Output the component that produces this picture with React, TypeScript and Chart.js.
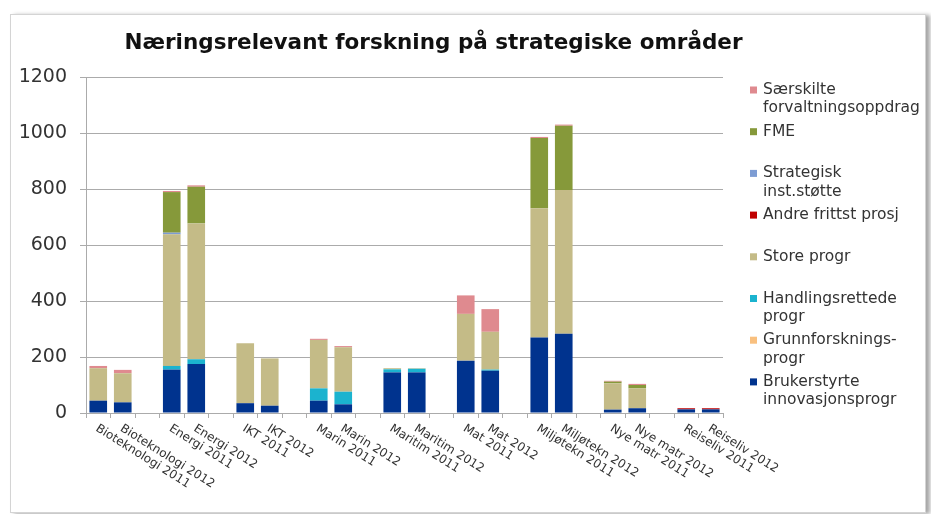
import React, { useEffect, useRef } from 'react';
import { Chart, registerables } from 'chart.js';

Chart.register(...registerables);

const TITLE = 'Næringsrelevant forskning på strategiske områder';

const categories = [
  'Bioteknologi 2011', 'Bioteknologi 2012', '',
  'Energi 2011', 'Energi 2012', '',
  'IKT 2011', 'IKT 2012', '',
  'Marin 2011', 'Marin 2012', '',
  'Maritim 2011', 'Maritim 2012', '',
  'Mat 2011', 'Mat 2012', '',
  'Miljøtekn 2011', 'Miljøtekn 2012', '',
  'Nye matr 2011', 'Nye matr 2012', '',
  'Reiseliv 2011', 'Reiseliv 2012',
];

const brukerstyrte = [44, 38, null, 155, 175, null, 35, 26, null, 44, 31, null, 145, 145, null, 187, 151, null, 270, 283, null, 12, 17, null, 13, 13];
const grunnforskning = [0, 0, null, 0, 0, null, 0, 0, null, 0, 0, null, 0, 0, null, 0, 0, null, 0, 0, null, 0, 0, null, 0, 0];
const handlingsrettede = [0, 0, null, 13, 17, null, 0, 0, null, 44, 45, null, 11, 13, null, 0, 4, null, 0, 0, null, 0, 0, null, 0, 0];
const storeProgr = [116, 104, null, 470, 485, null, 214, 169, null, 173, 159, null, 4, 2, null, 167, 135, null, 461, 513, null, 94, 71, null, 0, 0];
const andreFrittst = [0, 0, null, 0, 0, null, 0, 0, null, 0, 0, null, 0, 0, null, 0, 0, null, 0, 0, null, 0, 0, null, 4, 4];
const strategisk = [0, 0, null, 6, 0, null, 0, 0, null, 0, 0, null, 0, 0, null, 0, 0, null, 0, 0, null, 0, 0, null, 0, 0];
const fme = [0, 0, null, 145, 131, null, 0, 0, null, 0, 0, null, 0, 0, null, 0, 0, null, 251, 230, null, 6, 12, null, 0, 0];
const saerskilte = [8, 12, null, 4, 5, null, 0, 0, null, 4, 4, null, 0, 0, null, 66, 81, null, 4, 4, null, 3, 4, null, 0, 0];

const yMin = 0;
const yMax = 1200;
const yStep = 200;

const seriesLabels = [
  ['Brukerstyrte', 'innovasjonsprogr'],
  ['Grunnforsknings-', 'progr'],
  ['Handlingsrettede', 'progr'],
  ['Store progr'],
  ['Andre frittst prosj'],
  ['Strategisk', 'inst.støtte'],
  ['FME'],
  ['Særskilte', 'forvaltningsoppdrag'],
];
const seriesData = [brukerstyrte, grunnforskning, handlingsrettede, storeProgr, andreFrittst, strategisk, fme, saerskilte];
const seriesColors = ['#00338E', '#F9C07F', '#1BB3CF', '#C4BB87', '#C00000', '#7D9CD3', '#86993A', '#DF8A8F'];

const FONT = '"DejaVu Sans", Verdana, sans-serif';
const TEXT = '#333333';
const GRID = '#ABABAB';

const decorPlugin = {
  id: 'decor',
  afterDraw(chart: any) {
    const ctx = chart.ctx;
    const area = chart.chartArea;
    const xs = chart.scales.x;
    ctx.save();
    // title
    ctx.fillStyle = '#111111';
    ctx.font = `bold 21.5px ${FONT}`;
    ctx.textAlign = 'center';
    ctx.textBaseline = 'alphabetic';
    ctx.fillText(TITLE, 433.5, 48.5);

    // rotated category labels
    ctx.fillStyle = TEXT;
    ctx.font = `12px ${FONT}`;
    categories.forEach((c, i) => {
      if (!c) return;
      const x = xs.getPixelForValue(i);
      ctx.save();
      ctx.translate(x + 1.5, area.bottom + 9.5);
      ctx.rotate((32 * Math.PI) / 180);
      ctx.textAlign = 'left';
      ctx.textBaseline = 'top';
      ctx.fillText(c, 0, 0);
      ctx.restore();
    });

    // legend (reversed order, top = last series)
    ctx.font = `15.5px ${FONT}`;
    ctx.textAlign = 'left';
    ctx.textBaseline = 'middle';
    const ds = chart.data.datasets;
    const n = ds.length;
    for (let k = 0; k < n; k++) {
      const idx = n - 1 - k;
      const y = 90 + k * 41.7;
      ctx.fillStyle = ds[idx].backgroundColor;
      ctx.fillRect(750, y - 3.5, 7, 7);
      ctx.fillStyle = TEXT;
      seriesLabels[idx].forEach((line, j) => {
        ctx.fillText(line, 763, y + j * 18.3);
      });
    }
    ctx.restore();
  },
};

export default function App() {
  const ref = useRef<HTMLCanvasElement | null>(null);

  useEffect(() => {
    if (!ref.current) return;
    const chart = new Chart(ref.current, {
      type: 'bar',
      data: {
        labels: categories,
        datasets: seriesData.map((d, i) => ({
          label: seriesLabels[i].join(' '),
          data: d,
          backgroundColor: seriesColors[i],
          borderWidth: 0,
          categoryPercentage: 1,
          barPercentage: 0.72,
        })),
      },
      options: {
        responsive: false,
        animation: false,
        devicePixelRatio: 1,
        layout: { padding: { top: 77, right: 208, bottom: 0, left: 0 } },
        plugins: {
          legend: { display: false },
          title: { display: false },
          tooltip: { enabled: false },
        },
        scales: {
          x: {
            stacked: true,
            grid: {
              display: true,
              drawOnChartArea: false,
              drawTicks: true,
              tickLength: 5,
              offset: true,
              color: GRID,
            },
            border: { display: true, color: GRID },
            ticks: { display: false, autoSkip: false },
            afterFit: (s: any) => { s.height = 101; },
          },
          y: {
            stacked: true,
            min: yMin,
            max: yMax,
            ticks: {
              stepSize: yStep,
              color: TEXT,
              padding: 13,
              font: { family: FONT, size: 19 },
              callback: (v: any) => String(v),
            },
            grid: { color: GRID, tickLength: 6, drawTicks: true },
            border: { display: true, color: GRID },
            afterFit: (s: any) => { s.width = 86; },
          },
        },
      },
      plugins: [decorPlugin],
    });
    return () => chart.destroy();
  }, []);

  return (
    <div style={{ position: 'fixed', left: 0, top: 0, width: 931, height: 514, background: '#ffffff', overflow: 'hidden' }}>
      <div
        style={{
          position: 'absolute',
          left: 10,
          top: 14,
          width: 914,
          height: 497,
          border: '1px solid #D4D4D4',
          boxShadow: '4px 1px 4px rgba(0,0,0,0.35)',
          background: '#ffffff',
        }}
      />
      <canvas
        ref={ref}
        width={931}
        height={514}
        style={{ position: 'absolute', left: 0, top: 0, width: 931, height: 514 }}
      />
    </div>
  );
}
